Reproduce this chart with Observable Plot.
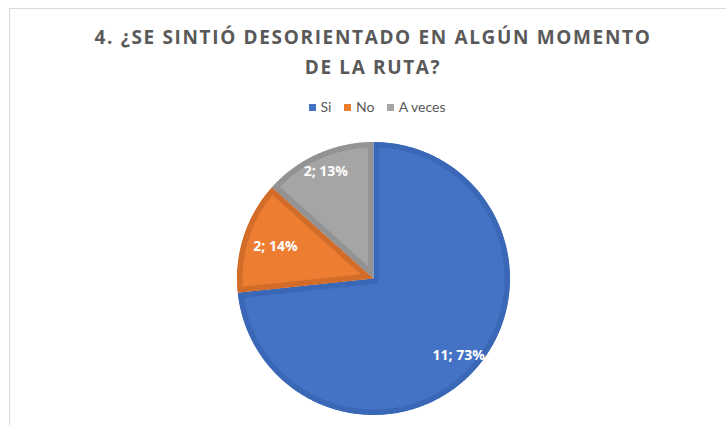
<!DOCTYPE html>
<html><head><meta charset="utf-8">
<script src="https://cdn.jsdelivr.net/npm/d3@7"></script>
<script src="https://cdn.jsdelivr.net/npm/@observablehq/plot@0.6"></script>
<style>
body{margin:0;background:#fff;}
#wrap{position:relative;width:726px;height:425px;overflow:hidden;font-family:"Open Sans",sans-serif;}
#frame{position:absolute;left:9px;top:8px;width:800px;height:500px;border-top:1.5px solid #d9d9d9;border-left:1.5px solid #d9d9d9;}
#chart{position:absolute;left:0;top:0;}
#title{position:absolute;left:0;width:746px;top:22px;text-align:center;font-weight:bold;font-size:19px;letter-spacing:1.65px;color:#595959;line-height:30px;}
#legend{position:absolute;top:100px;left:309px;display:flex;gap:13px;font-family:Lato,sans-serif;font-size:14px;line-height:14px;color:#595959;white-space:nowrap;}
#legend span.item{display:flex;align-items:center;}
#legend i{display:inline-block;width:6.5px;height:7px;margin-right:5px;}
</style></head>
<body>
<div id="wrap">
  <div id="frame"></div>
  <div id="chart"></div>
  <div id="title">4. ¿SE SINTIÓ DESORIENTADO EN ALGÚN MOMENTO<br>DE LA RUTA?</div>
  <div id="legend"></div>
</div>
<script>
// ---- data ----
const categories = ["Si", "No", "A veces"];
const counts = [11, 2, 2];
const percents = ["73%", "14%", "13%"];

// ---- styles / layout ----
const fills = ["#4472C4", "#ED7D31", "#A5A5A5"];
const borders = ["#3A67B6", "#D26C29", "#939393"];
const labelRadius = [0.84, 0.755, 0.86];
const W = 726, H = 425, cx = 373, cy = 278, R = 136.5;

const slices = d3.pie().sort(null).value(d => d.value)(
  categories.map((c, i) => ({cat: c, value: counts[i], i}))
);

function slicePoints(s) {
  const pts = [{x: 0, y: 0}];
  const n = Math.max(2, Math.ceil((s.endAngle - s.startAngle) / (Math.PI / 360)));
  for (let k = 0; k <= n; k++) {
    const a = s.startAngle + (s.endAngle - s.startAngle) * k / n;
    pts.push({x: Math.sin(a), y: Math.cos(a)});
  }
  pts.push({x: 0, y: 0});
  return pts;
}

const sliceMarks = slices.map(s =>
  Plot.line(slicePoints(s), {
    x: "x", y: "y",
    fill: fills[s.data.i], stroke: borders[s.data.i],
    strokeWidth: 11, strokeLinejoin: "miter"
  })
);

const labels = Plot.text(slices, {
  x: s => labelRadius[s.data.i] * Math.sin((s.startAngle + s.endAngle) / 2),
  y: s => labelRadius[s.data.i] * Math.cos((s.startAngle + s.endAngle) / 2),
  text: s => `${counts[s.data.i]}; ${percents[s.data.i]}`,
  fill: "white", fontWeight: "bold", fontSize: 14,
  fontFamily: "'Open Sans', sans-serif"
});

const chart = Plot.plot({
  width: W, height: H,
  margin: 0,
  x: {domain: [(0 - cx) / R, (W - cx) / R], axis: null},
  y: {domain: [(cy - H) / R, cy / R], axis: null},
  style: {background: "transparent"},
  marks: [...sliceMarks, labels]
});

// clip each slice's border to its own shape so the border is drawn inside it
const ns = "http://www.w3.org/2000/svg";
const defs = document.createElementNS(ns, "defs");
chart.insertBefore(defs, chart.firstChild);
chart.querySelectorAll('g[aria-label="line"] path').forEach((p, k) => {
  const cp = document.createElementNS(ns, "clipPath");
  cp.setAttribute("id", "slice-clip-" + k);
  const cpp = document.createElementNS(ns, "path");
  cpp.setAttribute("d", p.getAttribute("d"));
  if (p.getAttribute("transform")) cpp.setAttribute("transform", p.getAttribute("transform"));
  cp.appendChild(cpp);
  defs.appendChild(cp);
  p.setAttribute("clip-path", `url(#slice-clip-${k})`);
});
document.getElementById("chart").appendChild(chart);

const legend = document.getElementById("legend");
categories.forEach((c, i) => {
  const s = document.createElement("span");
  s.className = "item";
  s.innerHTML = `<i style="background:${fills[i]}"></i>${c}`;
  legend.appendChild(s);
});
</script>
</body></html>
